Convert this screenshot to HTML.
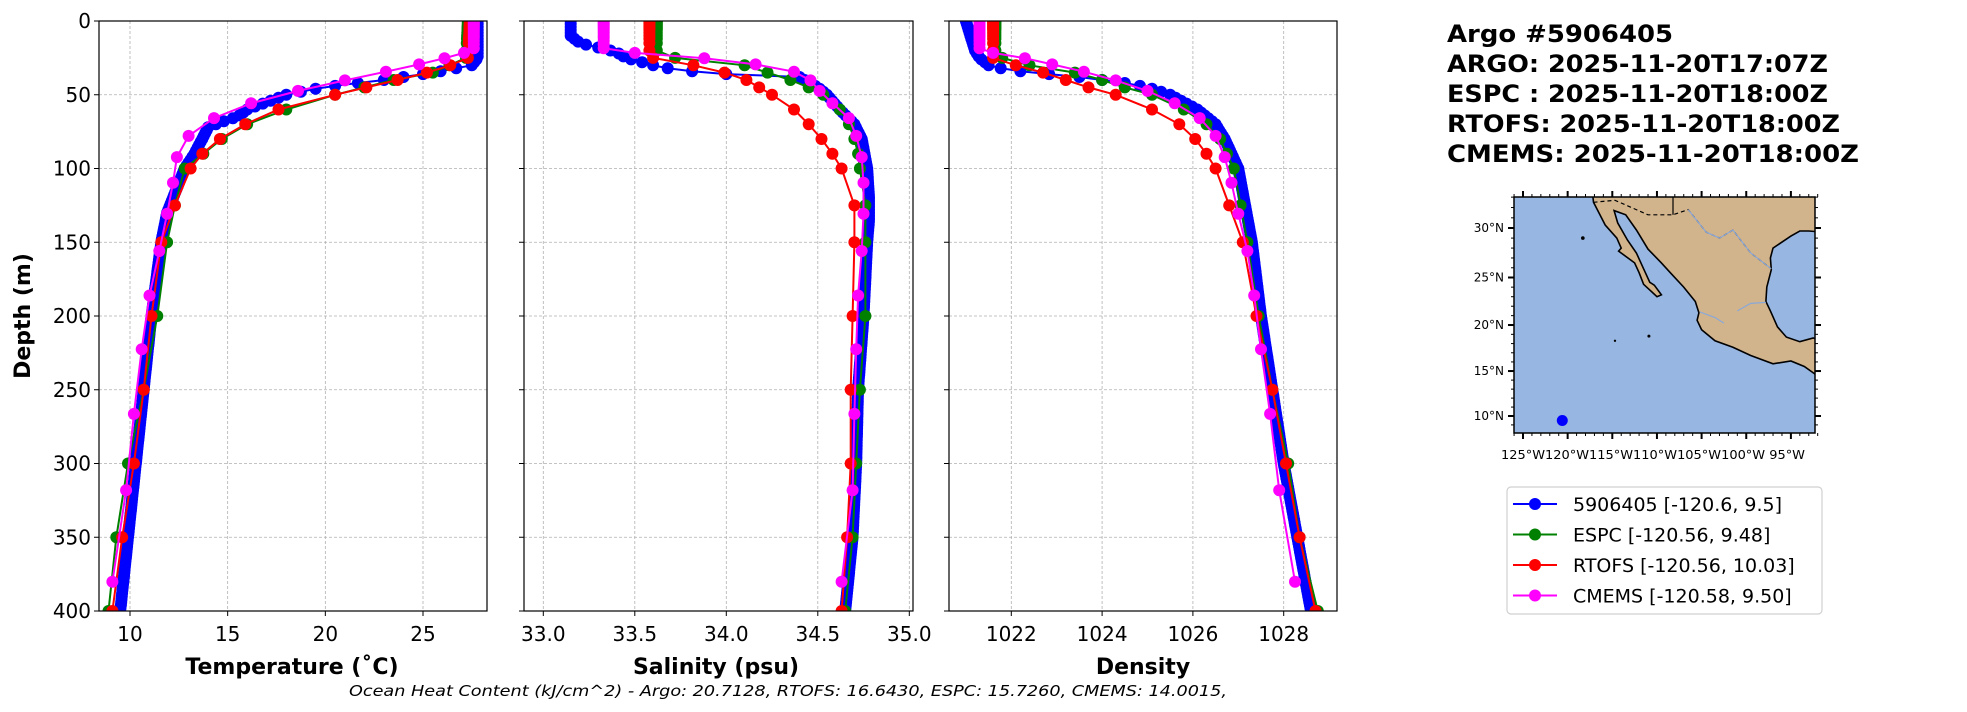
<!DOCTYPE html>
<html><head><meta charset="utf-8">
<style>
html,body{margin:0;padding:0;background:#fff;}
svg{display:block;}
text{font-family:"DejaVu Sans","Liberation Sans",sans-serif;}
</style></head>
<body>
<svg id="s" width="1967" height="712" xmlns="http://www.w3.org/2000/svg"></svg>
<script>
const S=document.getElementById('s');
let out='';
const Y0=21, Y1=611;
function yd(d){return Y0+(Y1-Y0)*d/400;}
function interp(pts,d){
  if(d<=pts[0][0])return pts[0][1];
  for(let i=1;i<pts.length;i++){
    if(d<=pts[i][0]){const a=pts[i-1],b=pts[i];return a[1]+(b[1]-a[1])*(d-a[0])/(b[0]-a[0]);}
  }
  return pts[pts.length-1][1];
}
const modelD=[0,1,2,3,4,5,6,8,10,12,15,20,25,30,35,40,45,50,60,70,80,90,100,125,150,200,250,300,350,400];
const cmD=[0.5,1.5,2.6,3.8,5,6.4,7.9,9.6,11.4,13.5,15.8,18.5,21.6,25.2,29.4,34.4,40.3,47.4,55.8,65.8,77.9,92.3,109.7,130.7,155.9,186.1,222.5,266.4,318.1,380.2];
const argD=[];for(let d=0;d<=400;d+=2)argD.push(d);
const data={
T:{
b:[[0,27.8],[25,27.8],[30,27.5],[35,25.5],[40,23],[43,21],[46,19.5],[50,18],[55,17],[60,16],[65,15.5],[68,14.8],[72,14],[80,13.7],[90,13.3],[100,12.8],[120,12.2],[130,11.9],[150,11.6],[200,11.1],[250,10.7],[300,10.3],[350,9.9],[400,9.5]],
g:[[0,27.3],[25,27.2],[35,25.5],[40,23.5],[45,22],[50,20.5],[60,18],[70,16],[80,14.7],[100,12.8],[125,12.3],[150,11.9],[200,11.4],[250,10.7],[300,9.9],[350,9.3],[400,8.9]],
r:[[0,27.4],[25,27.3],[30,26.4],[35,25.2],[40,23.7],[45,22.1],[50,20.5],[60,17.6],[70,15.9],[80,14.6],[90,13.7],[100,13.1],[125,12.3],[150,11.6],[200,11.1],[250,10.7],[300,10.2],[350,9.6],[400,9.1]],
m:[[0,27.6],[20,27.6],[21.6,27.1],[25.2,26.1],[29.4,24.8],[34.4,23.1],[40.3,21.0],[47.4,18.6],[55.8,16.2],[65.8,14.3],[77.9,13.0],[92.3,12.4],[109.7,12.2],[130.7,11.9],[155.9,11.5],[186.1,11.0],[222.5,10.6],[266.4,10.2],[318.1,9.8],[380.2,9.1]]},
S:{
b:[[0,33.15],[10,33.15],[12,33.17],[15,33.2],[18,33.3],[21,33.4],[25,33.45],[30,33.6],[33,33.72],[36,34.0],[38,34.4],[45,34.5],[50,34.55],[60,34.62],[70,34.7],[80,34.74],[100,34.77],[120,34.78],[135,34.78],[150,34.77],[200,34.75],[250,34.72],[300,34.71],[350,34.69],[400,34.65]],
g:[[0,33.62],[20,33.62],[25,33.72],[30,34.1],[40,34.35],[45,34.45],[50,34.53],[60,34.62],[70,34.67],[80,34.7],[90,34.72],[100,34.73],[125,34.76],[150,34.76],[200,34.76],[250,34.73],[300,34.71],[350,34.69],[400,34.65]],
r:[[0,33.58],[20,33.58],[25,33.6],[30,33.82],[35,33.99],[40,34.11],[45,34.18],[50,34.25],[60,34.37],[70,34.45],[80,34.52],[90,34.58],[100,34.63],[125,34.7],[150,34.7],[200,34.69],[250,34.68],[300,34.68],[350,34.66],[400,34.63]],
m:[[0,33.33],[18.5,33.33],[21.6,33.5],[25.2,33.88],[29.4,34.16],[34.4,34.37],[40.3,34.46],[47.4,34.51],[55.8,34.58],[65.8,34.67],[77.9,34.71],[92.3,34.74],[109.7,34.75],[130.7,34.75],[155.9,34.74],[186.1,34.72],[222.5,34.71],[266.4,34.7],[318.1,34.69],[380.2,34.63]]},
D:{
b:[[0,1021.0],[10,1021.1],[20,1021.2],[25,1021.3],[30,1021.5],[33,1021.9],[35,1022.5],[38,1023.5],[42,1024.5],[45,1025.0],[50,1025.5],[60,1026.1],[70,1026.5],[80,1026.7],[100,1027.0],[150,1027.3],[200,1027.5],[250,1027.75],[300,1028.0],[350,1028.3],[400,1028.6]],
g:[[0,1021.65],[20,1021.65],[25,1021.8],[30,1022.4],[35,1023.4],[40,1024.0],[45,1024.5],[50,1025.1],[60,1025.8],[70,1026.3],[80,1026.6],[100,1026.9],[150,1027.2],[200,1027.45],[250,1027.75],[300,1028.1],[350,1028.35],[400,1028.75]],
r:[[0,1021.6],[25,1021.6],[30,1022.1],[35,1022.7],[40,1023.2],[45,1023.7],[50,1024.3],[60,1025.1],[70,1025.7],[80,1026.05],[90,1026.3],[100,1026.5],[125,1026.8],[150,1027.1],[200,1027.4],[250,1027.75],[300,1028.05],[350,1028.35],[400,1028.7]],
m:[[0,1021.3],[18.5,1021.3],[21.6,1021.6],[25.2,1022.3],[29.4,1022.9],[34.4,1023.6],[40.3,1024.3],[47.4,1025.0],[55.8,1025.6],[65.8,1026.15],[77.9,1026.5],[92.3,1026.7],[109.7,1026.85],[130.7,1027.0],[155.9,1027.2],[186.1,1027.35],[222.5,1027.5],[266.4,1027.7],[318.1,1027.9],[380.2,1028.25]]}
};
const panels=[
 {k:'T',L:99,R:487,x0:130,x1:423,v0:10,v1:25,ticks:[10,15,20,25],fmt:v=>v,label:'Temperature (˚C)',lx:292},
 {k:'S',L:524,R:913,x0:543.3,x1:909.3,v0:33,v1:35,ticks:[33,33.5,34,34.5,35],fmt:v=>v.toFixed(1),label:'Salinity (psu)',lx:716},
 {k:'D',L:949,R:1337,x0:1011.3,x1:1283.7,v0:1022,v1:1028,ticks:[1022,1024,1026,1028],fmt:v=>v,label:'Density',lx:1143}
];
const cols={b:'#0000ff',g:'#008000',r:'#ff0000',m:'#ff00ff'};
const depths={b:argD,g:modelD,r:modelD,m:cmD};
panels.forEach((p,pi)=>{
  const xv=v=>p.x0+(v-p.v0)*(p.x1-p.x0)/(p.v1-p.v0);
  out+=`<defs><clipPath id="c${pi}"><rect x="${p.L}" y="${Y0}" width="${p.R-p.L}" height="${Y1-Y0}"/></clipPath></defs>`;
  // grid
  p.ticks.forEach(t=>{const x=xv(t);out+=`<line x1="${x}" y1="${Y0}" x2="${x}" y2="${Y1}" stroke="#b0b0b0" stroke-width="0.8" stroke-dasharray="3,2"/>`;
    out+=`<line x1="${x}" y1="${Y1}" x2="${x}" y2="${Y1+5}" stroke="#000" stroke-width="1"/>`;
    out+=`<text x="${x}" y="${Y1+30}" font-size="20" text-anchor="middle">${p.fmt(t)}</text>`;});
  for(let d=50;d<400;d+=50){const y=yd(d);out+=`<line x1="${p.L}" y1="${y}" x2="${p.R}" y2="${y}" stroke="#b0b0b0" stroke-width="0.8" stroke-dasharray="3,2"/>`;}
  for(let d=0;d<=400;d+=50){const y=yd(d);out+=`<line x1="${p.L-5}" y1="${y}" x2="${p.L}" y2="${y}" stroke="#000" stroke-width="1"/>`;
    if(pi==0)out+=`<text x="${p.L-8}" y="${y+7}" font-size="20" text-anchor="end">${d}</text>`;}
  out+=`<g clip-path="url(#c${pi})">`;
  ['b','g','r','m'].forEach(s=>{
    const pts=depths[s].map(d=>[xv(interp(data[p.k][s],d)),yd(d)]);
    out+=`<polyline points="${pts.map(q=>q[0].toFixed(1)+','+q[1].toFixed(1)).join(' ')}" fill="none" stroke="${cols[s]}" stroke-width="2"/>`;
    pts.forEach(q=>{out+=`<circle cx="${q[0].toFixed(1)}" cy="${q[1].toFixed(1)}" r="6" fill="${cols[s]}"/>`;});
  });
  out+=`</g>`;
  out+=`<rect x="${p.L}" y="${Y0}" width="${p.R-p.L}" height="${Y1-Y0}" fill="none" stroke="#000" stroke-width="1.2"/>`;
  out+=`<text x="${p.lx}" y="${Y1+63}" font-size="22" font-weight="bold" text-anchor="middle">${p.label}</text>`;
});
out+=`<text transform="translate(30,316) rotate(-90)" font-size="22" font-weight="bold" text-anchor="middle">Depth (m)</text>`;
out+=`<text x="349" y="696" font-size="15" font-style="italic" textLength="878" lengthAdjust="spacingAndGlyphs">Ocean Heat Content (kJ/cm^2) - Argo: 20.7128,  RTOFS: 16.6430,  ESPC: 15.7260,  CMEMS: 14.0015,</text>`;
// titles
const tl=['Argo #5906405','ARGO: 2025-11-20T17:07Z','ESPC : 2025-11-20T18:00Z','RTOFS: 2025-11-20T18:00Z','CMEMS: 2025-11-20T18:00Z'];
const tw=[226,381,381,393,412];
tl.forEach((t,i)=>{out+=`<text x="1447" y="${42+i*30}" font-size="24" font-weight="bold" textLength="${tw[i]}" lengthAdjust="spacingAndGlyphs">${t}</text>`;});
// map
const ML=1514,MR=1815,MT=197,MB=433;
const mx=lon=>1523+(lon+125)*8.93;
const merc=lat=>Math.log(Math.tan(Math.PI/4+lat*Math.PI/360));
const my=lat=>416-(merc(lat)-merc(10))*502.8;
out+=`<defs><clipPath id="mc"><rect x="${ML}" y="${MT}" width="${MR-ML}" height="${MB-MT}"/></clipPath></defs>`;
out+=`<rect x="${ML}" y="${MT}" width="${MR-ML}" height="${MB-MT}" fill="#97b6e1"/>`;
const land=[[-117.3,34],[-117.1,32.5],[-116.5,31.5],[-115.8,30.3],[-114.5,29],[-114,28],[-114.3,27.7],[-112.5,26.5],[-112,25.5],[-111.5,24.3],[-110,23],[-109.5,23.2],[-110.3,24.2],[-110.8,24.5],[-111.5,25.9],[-112.3,27.5],[-113.3,28.8],[-114.4,30.5],[-114.8,31.7],[-113.5,31.3],[-112.3,29.8],[-111,27.9],[-109.5,26.5],[-108.5,25.5],[-107,24],[-105.7,22.5],[-105.3,21.3],[-105.5,20.5],[-105,19.5],[-103.5,18.3],[-101.5,17.6],[-99.5,16.7],[-97,15.8],[-95,16.1],[-93.5,15.5],[-92.2,14.6],[-91.5,14.0],[-91.5,18.3],[-92.5,18.6],[-94,18.2],[-95.5,18.7],[-96.5,19.8],[-97.3,21.5],[-97.8,22.5],[-97.7,24],[-97.2,25.8],[-97.3,27],[-97,28],[-95,29.2],[-94,29.7],[-93,29.7],[-91.5,29.6],[-91.5,34]];
const P=pts=>pts.map(q=>mx(q[0]).toFixed(1)+','+my(q[1]).toFixed(1)).join(' ');
out+=`<g clip-path="url(#mc)"><polygon points="${P(land)}" fill="#d2b48c" stroke="#000" stroke-width="1.6"/>`;
out+=`<polyline points="${P([[-117.1,32.5],[-114.7,32.7],[-111,31.3],[-108.2,31.3],[-106.5,31.8],[-104.5,29.6],[-103,29],[-101.5,29.8],[-99.5,27.5],[-97.2,25.9]])}" fill="none" stroke="#000" stroke-width="1.2" stroke-dasharray="4,3"/>`;
out+=`<polyline points="${P([[-108.2,31.3],[-108.2,33.5]])}" fill="none" stroke="#000" stroke-width="1.2"/>`;
out+=`<polyline points="${P([[-106.5,31.8],[-104.5,29.6],[-103,29],[-101.5,29.8],[-99.5,27.5],[-97.2,25.9]])}" fill="none" stroke="#8aa8d8" stroke-width="1.2"/>`;
out+=`<polyline points="${P([[-102.5,20.2],[-103.5,20.8],[-105.2,21.4]])}" fill="none" stroke="#8aa8d8" stroke-width="1.2"/>`;
out+=`<polyline points="${P([[-101,21.5],[-99.5,22.3],[-97.8,22.4]])}" fill="none" stroke="#8aa8d8" stroke-width="1.2"/>`;
out+=`<circle cx="${mx(-118.3)}" cy="${my(29)}" r="1.8" fill="#000"/><circle cx="${mx(-110.9)}" cy="${my(18.8)}" r="1.5" fill="#000"/><circle cx="${mx(-114.7)}" cy="${my(18.3)}" r="1.2" fill="#000"/>`;
out+=`<circle cx="${mx(-120.6)}" cy="${my(9.5)}" r="5.5" fill="#0000ff"/></g>`;
out+=`<rect x="${ML}" y="${MT}" width="${MR-ML}" height="${MB-MT}" fill="none" stroke="#000" stroke-width="1.5"/>`;
// map ticks
for(let lon=-126;lon<=-92;lon++){const x=mx(lon);const maj=(lon%5==0);
  out+=`<line x1="${x}" y1="${MB}" x2="${x}" y2="${MB+(maj?6:3)}" stroke="#000" stroke-width="${maj?2:1}"/><line x1="${x}" y1="${MT}" x2="${x}" y2="${MT-(maj?6:3)}" stroke="#000" stroke-width="${maj?2:1}"/>`;}
for(let lat=9;lat<=33;lat++){const y=my(lat);const maj=(lat%5==0);
  out+=`<line x1="${ML}" y1="${y}" x2="${ML-(maj?6:3)}" y2="${y}" stroke="#000" stroke-width="${maj?2:1}"/><line x1="${MR}" y1="${y}" x2="${MR+(maj?6:3)}" y2="${y}" stroke="#000" stroke-width="${maj?2:1}"/>`;}
[30,25,20,15,10].forEach(l=>{out+=`<text x="${ML-10}" y="${my(l)+4}" font-size="12" text-anchor="end">${l}°N</text>`;});
out+=`<text x="1501" y="459" font-size="12.5" textLength="304" lengthAdjust="spacingAndGlyphs">125°W120°W115°W110°W105°W100°W 95°W</text>`;
// legend
out+=`<rect x="1507" y="487" width="315" height="127" rx="4" fill="#fff" stroke="#d0d0d0" stroke-width="1.2"/>`;
const lg=[['b','5906405 [-120.6, 9.5]'],['g','ESPC [-120.56, 9.48]'],['r','RTOFS [-120.56, 10.03]'],['m','CMEMS [-120.58, 9.50]']];
lg.forEach((l,i)=>{const y=504+i*30.5;
  out+=`<line x1="1513" y1="${y}" x2="1557" y2="${y}" stroke="${cols[l[0]]}" stroke-width="2"/><circle cx="1535" cy="${y}" r="6" fill="${cols[l[0]]}"/>`;
  out+=`<text x="1573" y="${y+7}" font-size="19">${l[1]}</text>`;});
S.innerHTML=out;
</script>
</body></html>
